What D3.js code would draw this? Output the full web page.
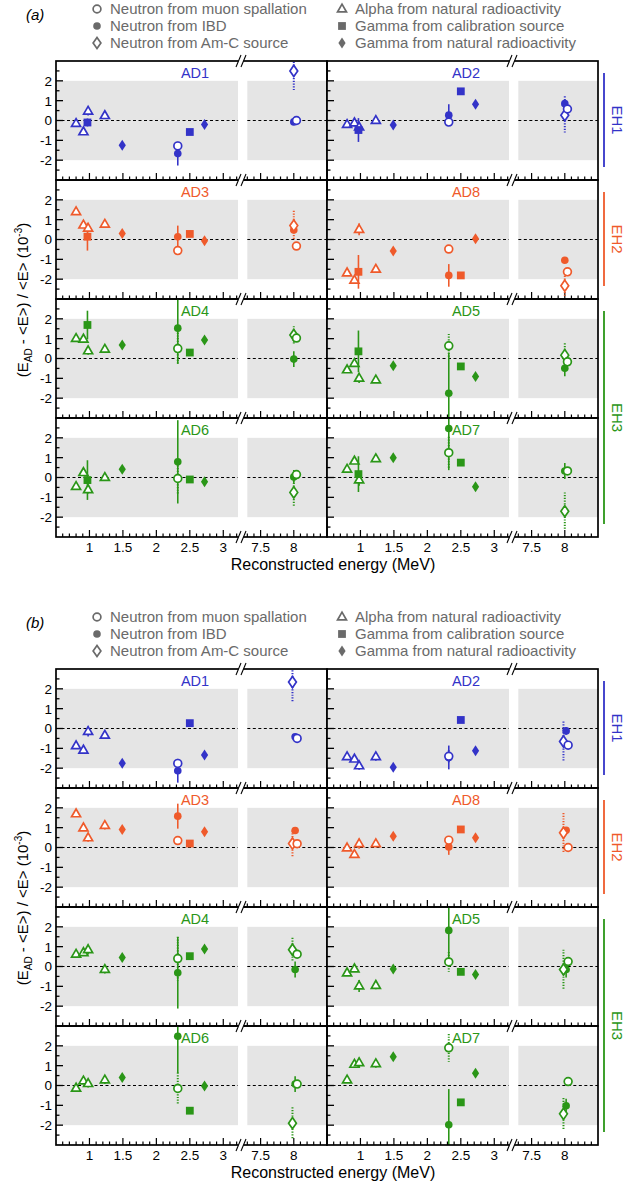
<!DOCTYPE html>
<html><head><meta charset="utf-8">
<script src="https://cdn.jsdelivr.net/npm/d3@7"></script>
<style>
body{margin:0;background:#fff}
svg{display:block}
text{font-family:"Liberation Sans",Arial,Helvetica,sans-serif}
</style>
</head><body>
<svg id="c" width="641" height="1188"></svg>
<script>
// ---------------- data ----------------
const detectors = ["AD1","AD2","AD3","AD8","AD4","AD5","AD6","AD7"];
const hallOf = ["EH1","EH1","EH2","EH2","EH3","EH3","EH3","EH3"];
const halls = ["EH1","EH2","EH3"];
const panelTags = ["(a)","(b)"];
const legendLabels = ["Neutron from muon spallation","Neutron from IBD","Neutron from Am-C source",
                      "Alpha from natural radioactivity","Gamma from calibration source","Gamma from natural radioactivity"];
const legendTypes = ["openCircle","filledCircle","openDiamond","openTriangle","filledSquare","filledDiamond"];
const xTickLabels = [1,1.5,2,2.5,3,7.5,8];
const yTickLabels = [-2,-1,0,1,2];
const xAxisTitle = "Reconstructed energy (MeV)";

// energies (MeV) of each source
const alphaE = [0.80,0.91,0.98,1.23];
const calibEA = [0.97,2.50];
const calibEB = [2.50];
const naturalE = [1.49,2.72];
const spallEA = [2.32,8.04];
const spallEB = [2.32,8.05];
const ibdEA = [2.32,8.00];
const ibdEB = [2.32,8.02];
const amcEA = [8.00];
const amcEB = [7.98];

// panel (a): values per detector (order of `detectors`)
const alphaA = [[-0.15,-0.57,0.47,0.25],[-0.20,-0.12,-0.33,0.00],[1.40,0.73,0.57,0.77],[-1.68,-2.05,0.51,-1.50],
                [1.01,0.98,0.39,0.47],[-0.57,-0.25,-0.99,-1.08],[-0.45,0.25,-0.61,0.00],[0.42,0.83,-0.12,0.95]];
const alphaErrA = [[0,0,0.22,0.12],[0,0,0.25,0.15],[0,0,0.2,0.15],[0,0,0.3,0.12],
                   [0,0,0.2,0.12],[0,0,0.25,0.12],[0,0,0.2,0.12],[0,0,0.3,0.12]];
const calibA = [[-0.10,-0.58],[-0.48,1.47],[0.14,0.28],[-1.63,-1.81],[1.69,0.30],[0.36,-0.40],[-0.13,-0.10],[0.17,0.75]];
const calibErrA = [[0.2,0],[0.6,0],[0.7,0],[0.85,0],[0.72,0],[1.05,0],[1.0,0],[0.9,0]];
const naturalA = [[-1.25,-0.20],[-0.23,0.82],[0.30,-0.06],[-0.58,0.04],[0.68,0.93],[-0.37,-0.91],[0.42,-0.22],[1.00,-0.47]];
const naturalErrA = [[0.15,0.15],[0.15,0.15],[0.15,0.15],[0.15,0.15],[0.15,0.15],[0.15,0.15],[0.15,0.15],[0.15,0.15]];
const spallA = [[-1.28,0.00],[-0.08,0.58],[-0.56,-0.33],[-0.48,-1.63],[0.50,1.03],[0.64,-0.17],[-0.05,0.15],[1.25,0.33]];
const spallErrA = [[0.15,0.1],[0.15,0.1],[0.1,0.1],[0.1,0.15],[0.8,0.15],[0.6,0.15],[0.8,0.15],[0.8,0.15]];
const ibdA = [[-1.67,-0.07],[0.27,0.85],[0.14,0.48],[-1.81,-1.05],[1.53,-0.03],[-1.75,-0.49],[0.79,0.03],[2.47,0.33]];
const ibdErrA = [[0.6,0.1],[0.55,0.2],[0.56,0.15],[0.57,0.1],[1.8,0.4],[2.05,0.4],[2.1,0.35],[2.1,0.4]];
const amcA = [[2.50],[0.27],[0.70],[-2.33],[1.18],[0.17],[-0.75],[-1.70]];
const amcErrA = [[1.0],[0.95],[0.75],[0.5],[0.45],[0.6],[0.75],[0.95]];

// panel (b)
const alphaB = [[-0.87,-1.09,-0.15,-0.34],[-1.42,-1.54,-1.88,-1.42],[1.70,0.99,0.49,1.11],[-0.02,-0.35,0.19,0.19],
                [0.62,0.70,0.85,-0.15],[-0.32,-0.12,-0.98,-0.95],[-0.13,0.23,0.10,0.28],[0.28,1.07,1.15,1.10]];
const alphaErrB = [[0,0,0.25,0.15],[0,0,0.2,0.2],[0,0,0.2,0.2],[0,0,0.25,0.1],
                   [0,0,0.25,0.2],[0,0,0.3,0.2],[0,0,0.2,0.2],[0,0,0.25,0.2]];
const calibB = [[0.27],[0.43],[0.20],[0.91],[0.52],[-0.27],[-1.27],[-0.85]];
const calibErrB = [[0],[0],[0],[0],[0],[0],[0],[0]];
const naturalB = [[-1.75,-1.33],[-1.96,-1.12],[0.91,0.79],[0.57,0.49],[0.45,0.88],[-0.13,-0.40],[0.40,-0.02],[1.45,0.62]];
const naturalErrB = [[0.15,0.15],[0.15,0.15],[0.15,0.15],[0.15,0.15],[0.15,0.15],[0.15,0.15],[0.15,0.15],[0.15,0.15]];
const spallB = [[-1.76,-0.50],[-1.40,-0.84],[0.35,0.19],[0.37,0.00],[0.40,0.62],[0.23,0.25],[-0.15,0.07],[1.90,0.20]];
const spallErrB = [[0.1,0.1],[0.3,0.1],[0.1,0.1],[0.1,0.1],[1.1,0.1],[0.5,0.1],[0.8,0.1],[0.7,0.1]];
const ibdB = [[-2.13,-0.42],[-1.46,-0.12],[1.58,0.86],[0.03,0.87],[-0.32,-0.15],[1.82,-0.15],[2.48,0.07],[-1.98,-1.02]];
const ibdErrB = [[0.6,0.1],[0.6,0.2],[0.63,0.1],[0.4,0.1],[1.8,0.4],[1.6,0.4],[1.85,0.4],[1.8,0.35]];
const amcB = [[2.34],[-0.65],[0.20],[0.74],[0.85],[-0.15],[-1.90],[-1.43]];
const amcErrB = [[1.0],[1.0],[0.65],[1.0],[0.6],[1.0],[0.8],[0.8]];

// ---------------- layout ----------------
const svg = d3.select("#c");
const colX = [56, 327];
const colW = 271;
const rowT = [61, 180, 299, 418];
const rowH = 119;
const panelOffsets = [0, 608];
const hallColor = {EH1:"#3333c8", EH2:"#ef5a2b", EH3:"#2a9617"};
const legendGray = "#6a6a6a";

const xs = d3.scaleLinear().domain([0.5,3.25,7.25,8.5]).range([0,184,188,271]);
const ys = d3.scaleLinear().domain([-3,3]).range([rowH,0]);
const grayRanges = [[0.5,3.22],[7.3,8.5]];

const panels = [
  [ {type:"openTriangle", E:alphaE, v:alphaA, e:alphaErrA, dot:false},
    {type:"filledSquare", E:calibEA, v:calibA, e:calibErrA, dot:false},
    {type:"filledDiamond", E:naturalE, v:naturalA, e:naturalErrA, dot:false},
    {type:"filledCircle", E:ibdEA, v:ibdA, e:ibdErrA, dot:false},
    {type:"openDiamond", E:amcEA, v:amcA, e:amcErrA, dot:true},
    {type:"openCircle", E:spallEA, v:spallA, e:spallErrA, dot:true} ],
  [ {type:"openTriangle", E:alphaE, v:alphaB, e:alphaErrB, dot:false},
    {type:"filledSquare", E:calibEB, v:calibB, e:calibErrB, dot:false},
    {type:"filledDiamond", E:naturalE, v:naturalB, e:naturalErrB, dot:false},
    {type:"filledCircle", E:ibdEB, v:ibdB, e:ibdErrB, dot:false},
    {type:"openDiamond", E:amcEB, v:amcB, e:amcErrB, dot:true},
    {type:"openCircle", E:spallEB, v:spallB, e:spallErrB, dot:true} ]
];

function drawMarker(g, type, x, y, color) {
  const open = type.startsWith("open");
  let el;
  if (type.endsWith("Circle")) {
    el = g.append("circle").attr("cx",x).attr("cy",y).attr("r", open?3.9:3.8);
  } else if (type === "openTriangle") {
    const s = 9, h = s*Math.sqrt(3)/2;
    el = g.append("path").attr("d",`M${x},${y-h*0.62}L${x+s/2},${y+h*0.38}L${x-s/2},${y+h*0.38}Z`);
  } else if (type === "filledSquare") {
    el = g.append("rect").attr("x",x-3.9).attr("y",y-3.9).attr("width",7.8).attr("height",7.8);
  } else if (type === "filledDiamond") {
    el = g.append("path").attr("d",`M${x},${y-5.5}L${x+3.6},${y}L${x},${y+5.5}L${x-3.6},${y}Z`);
  } else if (type === "openDiamond") {
    el = g.append("path").attr("d",`M${x},${y-5.6}L${x+3.9},${y}L${x},${y+5.6}L${x-3.9},${y}Z`);
  }
  if (open) el.attr("fill","#fff").attr("stroke",color).attr("stroke-width",1.7);
  else el.attr("fill",color);
}

panelOffsets.forEach((off, p) => {
  const g = svg.append("g").attr("transform",`translate(0,${off})`);

  // tag
  g.append("text").attr("x",26).attr("y",20).attr("font-size",15).attr("font-style","italic").text(panelTags[p]);

  // legend
  legendLabels.forEach((lab, k) => {
    const col = Math.floor(k/3), r = k%3;
    const mx = col===0 ? 97 : 342, tx = col===0 ? 110 : 355;
    const cy = 9 + r*17;
    drawMarker(g, legendTypes[k], mx, cy, legendGray);
    g.append("text").attr("x",tx).attr("y",cy).attr("dy","0.36em").attr("font-size",15)
      .attr("fill",legendGray).text(lab);
  });

  // y-axis title
  const yt = g.append("text").attr("transform",`translate(28,${rowT[2]+1}) rotate(-90)`)
    .attr("text-anchor","middle").attr("font-size",15);
  yt.append("tspan").text("(E");
  yt.append("tspan").attr("font-size",10).attr("dy",4).text("AD");
  yt.append("tspan").attr("dy",-4).text(" - <E>) / <E> (10");
  yt.append("tspan").attr("font-size",10).attr("dy",-6).text("-3");
  yt.append("tspan").attr("dy",6).text(")");

  // x-axis title
  g.append("text").attr("x",333).attr("y",rowT[3]+rowH+33).attr("text-anchor","middle")
    .attr("font-size",16).text(xAxisTitle);

  detectors.forEach((ad, i) => {
    const col = i%2, row = Math.floor(i/2);
    const color = hallColor[hallOf[i]];
    const pg = g.append("g").attr("transform",`translate(${colX[col]},${rowT[row]})`);
    const cid = `clip-${p}-${i}`;
    pg.append("clipPath").attr("id",cid).append("rect").attr("width",colW).attr("height",rowH);

    grayRanges.forEach(([a,b]) => {
      pg.append("rect").attr("x",xs(a)).attr("width",xs(b)-xs(a)).attr("y",ys(2))
        .attr("height",ys(-2)-ys(2)).attr("fill","#e5e5e5");
    });
    grayRanges.forEach(([a,b]) => {
      pg.append("line").attr("x1",xs(a)).attr("x2",xs(b)).attr("y1",ys(0)).attr("y2",ys(0))
        .attr("stroke","#000").attr("stroke-width",1).attr("stroke-dasharray","3,2.5");
    });

    // y ticks
    d3.range(-2.5, 3, 0.5).forEach(t => {
      const major = Math.abs(t - Math.round(t)) < 1e-6;
      pg.append("line").attr("x1",0).attr("x2",major?7:3.5).attr("y1",ys(t)).attr("y2",ys(t))
        .attr("stroke","#000").attr("stroke-width",1.3);
    });
    if (col === 0) {
      yTickLabels.forEach(t => {
        pg.append("text").attr("x",-4).attr("y",ys(t)).attr("dy","0.36em").attr("text-anchor","end")
          .attr("font-size",13.5).text(t);
      });
    }
    // x ticks
    const minorT = d3.range(6, 33).map(d => d/10).concat(d3.range(73, 85).map(d => d/10));
    minorT.forEach(t => {
      const major = xTickLabels.some(v => Math.abs(v - t) < 1e-6);
      pg.append("line").attr("x1",xs(t)).attr("x2",xs(t)).attr("y1",rowH).attr("y2",rowH-(major?7:3.5))
        .attr("stroke","#000").attr("stroke-width",1.2);
    });
    if (row === 3) {
      xTickLabels.forEach(t => {
        pg.append("text").attr("x",xs(t)).attr("y",rowH+15).attr("text-anchor","middle")
          .attr("font-size",13.5).text(t);
      });
    }

    // data
    const inner = pg.append("g").attr("clip-path",`url(#${cid})`);
    const ser = panels[p];
    ser.forEach(s => {
      s.E.forEach((E, k) => {
        const v = s.v[i][k], e = s.e[i][k];
        if (e > 0) {
          inner.append("line").attr("x1",xs(E)).attr("x2",xs(E)).attr("y1",ys(v+e)).attr("y2",ys(v-e))
            .attr("stroke",color).attr("stroke-width",s.dot?2:1.6)
            .attr("stroke-dasharray",s.dot?"1.2,1.5":null);
        }
      });
    });
    ser.forEach(s => {
      s.E.forEach((E, k) => drawMarker(inner, s.type, xs(E), ys(s.v[i][k]), color));
    });

    // frame
    pg.append("rect").attr("width",colW).attr("height",rowH).attr("fill","none")
      .attr("stroke","#000").attr("stroke-width",1.7);

    // detector label
    pg.append("text").attr("x",139).attr("y",17).attr("text-anchor","middle").attr("font-size",14.5)
      .attr("fill",color).text(ad);
  });

  // break marks
  colX.forEach(cx0 => {
    const c = cx0 + 186;
    rowT.concat([rowT[3]+rowH]).forEach(y => {
      g.append("path").attr("d",`M${c-6},${y+6}L${c-1},${y-6}L${c+4},${y-6}L${c-1},${y+6}Z`).attr("fill","#fff");
      g.append("line").attr("x1",c-6).attr("y1",y+6).attr("x2",c-1).attr("y2",y-6).attr("stroke","#000").attr("stroke-width",1.1);
      g.append("line").attr("x1",c-1).attr("y1",y+6).attr("x2",c+4).attr("y2",y-6).attr("stroke","#000").attr("stroke-width",1.1);
    });
  });

  // hall labels
  const hallRows = {EH1:[0,0], EH2:[1,1], EH3:[2,3]};
  halls.forEach(h => {
    const [r0, r1] = hallRows[h];
    const y0 = rowT[r0] + 12, y1 = rowT[r1] + rowH - 13;
    g.append("line").attr("x1",604).attr("x2",604).attr("y1",y0).attr("y2",y1)
      .attr("stroke",hallColor[h]).attr("stroke-width",1.8);
    g.append("text").attr("transform",`translate(612,${(y0+y1)/2}) rotate(90)`)
      .attr("text-anchor","middle").attr("font-size",15).attr("fill",hallColor[h]).text(h);
  });
});
</script>
</body></html>
